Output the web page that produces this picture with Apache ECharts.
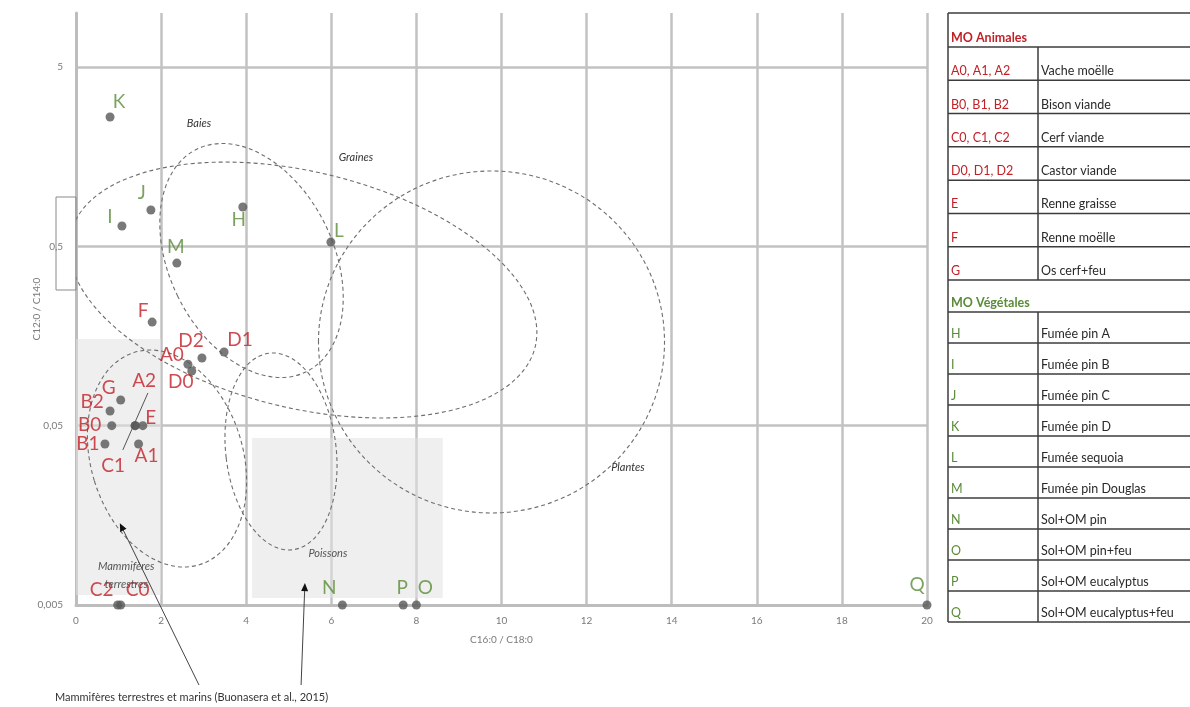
<!DOCTYPE html>
<html><head><meta charset="utf-8">
<script src="https://cdn.jsdelivr.net/npm/echarts@6/dist/echarts.min.js"></script>
<style>html,body{margin:0;padding:0;background:#fff}#c{width:1190px;height:707px}</style>
</head><body><div id="c"></div>
<script>
// ---------------- data ----------------
const animalNames = ['A0','A1','A2','B0','B1','B2','C0','C1','C2','D0','D1','D2','E','F','G'];
const animalX = [2.63,1.47,1.39,0.84,0.68,0.80,1.05,1.39,0.98,2.72,3.48,2.96,1.57,1.79,1.05];
const animalY = [0.110,0.0395,0.050,0.050,0.0395,0.0604,0.005,0.050,0.005,0.1008,0.1287,0.1192,0.050,0.189,0.0695];
const plantNames = ['H','I','J','K','L','M','N','O','P','Q'];
const plantX = [3.92,1.08,1.76,0.80,5.99,2.37,6.26,8.00,7.69,20];
const plantY = [0.828,0.649,0.797,2.63,0.528,0.403,0.005,0.005,0.005,0.005];
const yTickLabels = ['0,005','0,05','0,5','5'];
const yMin = 0.005, yMax = 10, xMin = 0, xMax = 20, xStep = 2;
// groups (dashed ellipses): centre (x, y), semi-axes (x units, log decades)
const groupNames = ['Baies','Graines','Plantes','Poissons','Mammifères'];
const groupCx = [4.125, 5.335, 9.765, 4.818, 2.139];
const groupCy = [0.4168, 0.2853, 0.1464, 0.0359, 0.0328];
const groupRx = [1.927, 5.617, 4.066, 1.297, 1.786];
const groupRdec = [0.6914, 0.658, 0.9535, 0.552, 0.619];
const groupTiltDeg = [26.2, -13.75, 0, 6.75, 17];
// group captions
const captionText = ['Baies','Graines','Plantes','Poissons','Mammifères','terrestres'];
const captionX = [2.89, 6.58, 12.97, 5.92, 1.18, 1.18];
const captionY = [2.41, 1.556, 0.0294, 0.00963, 0.00825, 0.00647];
// shaded reference areas (Buonasera et al., 2015)
const areaX0 = [0, 4.14], areaX1 = [2, 8.62];
const areaY0 = [0.152, 0.0427], areaY1 = [0.00568, 0.00547];
// arrows from the footnote to the areas: [tailX, tailY] -> [tipX, tipY]
const arrowTail = [[2.89, 0.00179], [5.29, 0.00179]];
const arrowTip = [[1.03, 0.0143], [5.38, 0.00663]];
// leader line A2 / C1
const leader = [[1.69, 0.0761], [1.10, 0.0366]];
// table
const animalCodes = ['A0, A1, A2','B0, B1, B2','C0, C1, C2','D0, D1, D2','E','F','G'];
const animalDesc = ['Vache moëlle','Bison viande','Cerf viande','Castor viande','Renne graisse','Renne moëlle','Os cerf+feu'];
const plantCodes = ['H','I','J','K','L','M','N','O','P','Q'];
const plantDesc = ['Fumée pin A','Fumée pin B','Fumée pin C','Fumée pin D','Fumée sequoia','Fumée pin Douglas','Sol+OM pin','Sol+OM pin+feu','Sol+OM eucalyptus','Sol+OM eucalyptus+feu'];

// ---------------- styles ----------------
const RED = '#c21f26', GREEN = '#5a8c38', DOT = '#575757', GRID = '#c2c2c2';
const labelOffset = {A0:[-16,-9],A1:[8,12],A2:[9,-45],B0:[-22,-1],B1:[-17,0],B2:[-18,-9],C0:[17,-15],C1:[-22,40],C2:[-16,-15],
  D0:[-11,11],D1:[16,-12],D2:[-11,-17],E:[8,-8],F:[-9,-11],G:[-12,-12],H:[-4,13],I:[-12,-9],J:[-9,-17],K:[9,-15],L:[8,-11],M:[-1,-16],
  N:[-13,-17],O:[9,-17],P:[-1,-17],Q:[-10,-20]};
const FONT = 'Lato, "Open Sans", sans-serif';

function pts(names, xs, ys, color) {
  return names.map((n, i) => ({
    name: n, value: [xs[i], ys[i]],
    label: {offset: labelOffset[n] || [0, -14], color: color}
  }));
}

const chart = echarts.init(document.getElementById('c'), null, {renderer: 'canvas'});
const option = {
  animation: false,
  backgroundColor: '#fff',
  grid: {left: 76, right: 263, top: 13, bottom: 102, containLabel: false},
  xAxis: {
    type: 'value', min: xMin, max: xMax, interval: xStep,
    axisLine: {show: true, lineStyle: {color: '#bdbdbd', width: 3}},
    axisTick: {show: false},
    axisLabel: {color: '#7a7a7a', fontSize: 10, margin: 11, fontFamily: FONT},
    splitLine: {show: true, lineStyle: {color: GRID, width: 2.5}},
    name: 'C16:0 / C18:0', nameLocation: 'middle', nameGap: 30,
    nameTextStyle: {color: '#7a7a7a', fontSize: 10, fontFamily: FONT}
  },
  yAxis: [{
    type: 'log', logBase: 10, min: yMin, max: yMax,
    axisLine: {show: true, lineStyle: {color: '#bdbdbd', width: 3}},
    axisTick: {show: false}, axisLabel: {show: false}, splitLine: {show: false},
    name: 'C12:0 / C14:0', nameLocation: 'middle', nameGap: 34, nameRotate: 90,
    nameTextStyle: {color: '#7a7a7a', fontSize: 10, fontFamily: FONT}
  }, {
    type: 'value', position: 'left', min: 0, max: Math.log10(yMax / yMin), interval: 1,
    axisLine: {show: false}, axisTick: {show: false},
    axisLabel: {color: '#7a7a7a', fontSize: 10, margin: 13, fontFamily: FONT, showMaxLabel: false,
      formatter: v => { const i = Math.round(v); return Math.abs(v - i) < 1e-6 && yTickLabels[i] !== undefined ? yTickLabels[i] : ''; }},
    splitLine: {show: true, showMinLine: false, showMaxLine: false, lineStyle: {color: GRID, width: 2.5}}
  }],
  series: [{
    type: 'scatter', name: 'zones', data: [], z: 1, silent: true,
    markArea: {
      silent: true,
      itemStyle: {color: 'rgba(226,226,226,0.55)'},
      data: areaX0.map((x, i) => [{coord: [x, areaY0[i]]}, {coord: [areaX1[i], areaY1[i]]}])
    }
  }, {
    type: 'custom', name: 'groupes', clip: true, silent: true, z: 2,
    data: groupNames.map((n, i) => ({name: n, value: [groupCx[i], groupCy[i], groupRx[i], groupRdec[i], groupTiltDeg[i]]})),
    encode: {x: 0, y: 1},
    renderItem: function (params, api) {
      const cx = api.value(0), cy = api.value(1);
      const c = api.coord([cx, cy]);
      const ux = api.coord([cx + 1, cy])[0] - c[0];
      const uy = c[1] - api.coord([cx, cy * 10])[1];
      return {
        type: 'ellipse', x: c[0], y: c[1], rotation: api.value(4) * Math.PI / 180,
        shape: {cx: 0, cy: 0, rx: api.value(2) * ux, ry: api.value(3) * uy},
        style: {fill: null, stroke: '#6e6e6e', lineWidth: 1.1, lineDash: [4, 3]}
      };
    }
  }, {
    type: 'scatter', name: 'MO Animales', z: 3, symbolSize: 9,
    itemStyle: {color: DOT},
    label: {show: true, position: 'inside', formatter: '{b}', fontSize: 19, fontFamily: FONT},
    data: pts(animalNames, animalX, animalY, RED)
  }, {
    type: 'scatter', name: 'MO Végétales', z: 3, symbolSize: 9,
    itemStyle: {color: DOT},
    label: {show: true, position: 'inside', formatter: '{b}', fontSize: 19, fontFamily: FONT},
    data: pts(plantNames, plantX, plantY, GREEN)
  }]
};
chart.setOption(option);

// ---------------- annotations ----------------
const P = (x, y) => chart.convertToPixel({xAxisIndex: 0, yAxisIndex: 0}, [x, y]);
const g = [];
function txt(x, y, text, o) {
  o = o || {};
  g.push({type: 'text', x: x, y: y, z: o.z || 10, style: {
    text: text, fill: o.color || '#333', font: (o.style || 'normal') + ' ' + (o.weight || 'normal') + ' ' + (o.size || 12) + 'px ' + FONT,
    fontSize: o.size || 12, fontFamily: FONT, fontStyle: o.style || 'normal', fontWeight: o.weight || 'normal',
    align: o.align || 'left', textAlign: o.align || 'left', verticalAlign: 'middle', textVerticalAlign: 'middle'}});
}
function seg(x1, y1, x2, y2, color, w) {
  g.push({type: 'line', z: 10, shape: {x1: x1, y1: y1, x2: x2, y2: y2}, style: {stroke: color, lineWidth: w}});
}
// captions
captionText.forEach((t, i) => { const p = P(captionX[i], captionY[i]);
  txt(p[0], p[1], t, {style: 'italic', size: 11, align: 'center', color: i >= 3 ? '#555' : '#333'}); });
// leader line
{ const a = P(leader[0][0], leader[0][1]), b = P(leader[1][0], leader[1][1]); seg(a[0], a[1], b[0], b[1], '#555', 1); }
// arrows
arrowTail.forEach((t, i) => {
  const a = P(t[0], t[1]), b = P(arrowTip[i][0], arrowTip[i][1]);
  const dx = b[0] - a[0], dy = b[1] - a[1], L = Math.hypot(dx, dy), ux = dx / L, uy = dy / L;
  seg(a[0], a[1], b[0] - ux * 4, b[1] - uy * 4, '#444', 1);
  g.push({type: 'polygon', z: 11, shape: {points: [[b[0], b[1]], [b[0] - ux * 8 - uy * 3.5, b[1] - uy * 8 + ux * 3.5], [b[0] - ux * 8 + uy * 3.5, b[1] - uy * 8 - ux * 3.5]]}, style: {fill: '#111'}});
});
// footnote
txt(55, 697, 'Mammifères terrestres et marins (Buonasera et al., 2015)', {size: 11, color: '#333'});
// odd box at left of y axis
g.push({type: 'rect', z: 5, shape: {x: 56, y: 197, width: 20, height: 93}, style: {fill: null, stroke: '#8a8a8a', lineWidth: 1}});

// table
const TL = 948, TD = 1038, TR = 1190, LINE = '#3c3c3c';
const animalRowBottom = [], plantRowBottom = [];
for (let i = 1; i <= 7; i++) animalRowBottom.push(47 + i * 233 / 7);
for (let i = 1; i <= 10; i++) plantRowBottom.push(312 + i * 31);
[13, 47, ...animalRowBottom, 312, ...plantRowBottom].forEach(y => seg(TL, y, TR, y, LINE, 1.5));
const tableBottom = plantRowBottom[plantRowBottom.length - 1];
seg(TL, 13, TL, tableBottom, LINE, 1.5);
seg(TD, 47, TD, 280, LINE, 1.5);
seg(TD, 312, TD, tableBottom, LINE, 1.5);
txt(951, 38, 'MO Animales', {weight: 'bold', size: 12.5, color: RED});
animalCodes.forEach((c, i) => { const yb = animalRowBottom[i]; txt(951, yb - 9, c, {size: 12.5, color: RED}); txt(1041, yb - 9, animalDesc[i], {size: 12.5, color: '#2a2a2a'}); });
txt(951, 303, 'MO Végétales', {weight: 'bold', size: 12.5, color: GREEN});
plantCodes.forEach((c, i) => { const yb = plantRowBottom[i]; txt(951, yb - 9, c, {size: 12.5, color: GREEN}); txt(1041, yb - 9, plantDesc[i], {size: 12.5, color: '#2a2a2a'}); });

chart.setOption({graphic: {elements: g}});
</script></body></html>
